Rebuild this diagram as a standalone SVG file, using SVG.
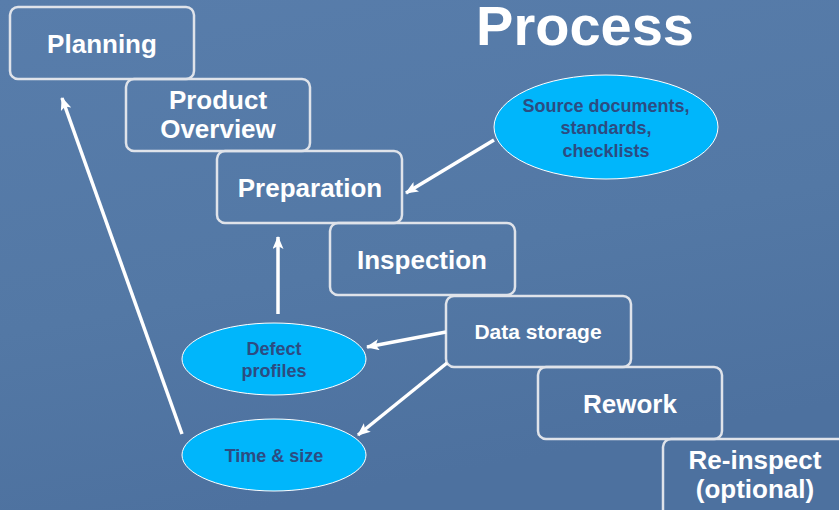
<svg xmlns="http://www.w3.org/2000/svg" width="839" height="510" viewBox="0 0 839 510">
<defs>
<linearGradient id="bg" x1="0" y1="0" x2="0.3" y2="1">
<stop offset="0" stop-color="#587dab"/>
<stop offset="0.6" stop-color="#5378a5"/>
<stop offset="1" stop-color="#4d719f"/>
</linearGradient>
<marker id="ah" viewBox="0 0 13 11" refX="12" refY="5.5" markerWidth="13" markerHeight="11" markerUnits="userSpaceOnUse" orient="auto">
<path d="M0,0 L13,5.5 L0,11 L3,5.5 Z" fill="#ffffff"/>
</marker>
<style>
.box{fill:none;stroke:#dfe3ea;stroke-width:2.5}
.bt{font-family:"Liberation Sans",Arial,sans-serif;font-weight:bold;fill:#ffffff;text-anchor:middle}
.el{fill:#00b6fb;stroke:#ffffff;stroke-width:1}
.et{font-family:"Liberation Sans",Arial,sans-serif;font-weight:bold;fill:#2c4c82;text-anchor:middle}
.cn{stroke:#ffffff;stroke-width:3.5;fill:none;marker-end:url(#ah)}
</style>
</defs>
<rect width="839" height="510" fill="url(#bg)"/>
<text x="585" y="45" class="bt" font-size="56">Process</text>
<g id="planning"><rect class="box" x="10" y="7" width="184" height="72" rx="8"/><text class="bt" x="102" y="53" font-size="26">Planning</text></g>
<g id="overview"><rect class="box" x="126" y="79" width="184" height="72" rx="8"/><text class="bt" x="218" y="109" font-size="26">Product</text><text class="bt" x="218" y="138" font-size="26">Overview</text></g>
<g id="preparation"><rect class="box" x="217" y="151" width="185" height="72" rx="8"/><text class="bt" x="310" y="197" font-size="26">Preparation</text></g>
<g id="inspection"><rect class="box" x="330" y="223" width="185" height="72" rx="8"/><text class="bt" x="422" y="269" font-size="26">Inspection</text></g>
<g id="datastorage"><rect class="box" x="446" y="296" width="185" height="71" rx="8"/><text class="bt" x="538" y="339" font-size="21">Data storage</text></g>
<g id="rework"><rect class="box" x="538" y="367" width="184" height="72" rx="8"/><text class="bt" x="630" y="413" font-size="26">Rework</text></g>
<g id="reinspect"><rect class="box" x="663" y="439" width="184" height="80" rx="8"/><text class="bt" x="755" y="469" font-size="26">Re-inspect</text><text class="bt" x="755" y="498" font-size="26">(optional)</text></g>
<g id="source"><ellipse class="el" cx="606" cy="127" rx="112" ry="52"/><text class="et" x="606" y="112" font-size="18">Source documents,</text><text class="et" x="606" y="134" font-size="18">standards,</text><text class="et" x="606" y="157" font-size="18">checklists</text></g>
<g id="defect"><ellipse class="el" cx="274" cy="359" rx="92" ry="36"/><text class="et" x="274" y="355" font-size="18">Defect</text><text class="et" x="274" y="377" font-size="18">profiles</text></g>
<g id="timesize"><ellipse class="el" cx="274" cy="455" rx="92" ry="36"/><text class="et" x="274" y="462" font-size="18">Time &amp; size</text></g>
<g id="connectors">
<line class="cn" x1="182" y1="434" x2="62" y2="98"/>
<line class="cn" x1="278" y1="314" x2="278" y2="237"/>
<line class="cn" x1="494" y1="140" x2="406" y2="193"/>
<line class="cn" x1="446" y1="332" x2="367" y2="347"/>
<line class="cn" x1="447" y1="363" x2="358" y2="435"/>
</g>
</svg>
